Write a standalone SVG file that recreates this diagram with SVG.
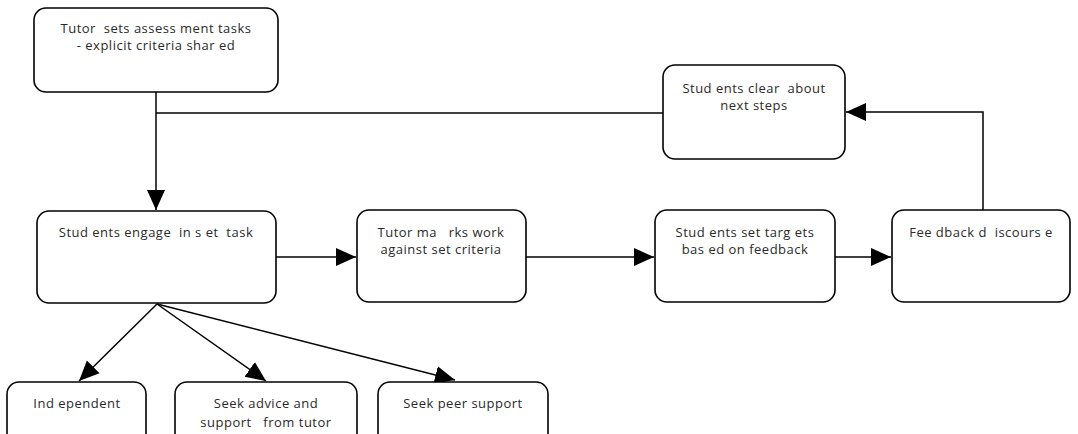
<svg xmlns="http://www.w3.org/2000/svg" width="1078" height="434" viewBox="0 0 1078 434">
<style>
.box{fill:#fff;stroke:#000;stroke-width:1.6}
.t{font-family:"Open Sans","Liberation Sans",sans-serif;font-size:13px;letter-spacing:0.5px;fill:#2a2a2a;text-anchor:middle;white-space:pre}
.c{fill:none;stroke:#000;stroke-width:1.5}
</style>
<defs>
<marker id="ah" markerUnits="userSpaceOnUse" markerWidth="20" markerHeight="20" viewBox="0 0 20 20" refX="20" refY="10" orient="auto">
<path d="M0,1 L20,10 L0,19 Z" fill="#000"/>
</marker>
</defs>
<g id="connectors">
<path class="c" d="M156,92 V210" marker-end="url(#ah)"/>
<path class="c" d="M156,113 H663"/>
<path class="c" d="M983,210 V112 H846" marker-end="url(#ah)"/>
<path class="c" d="M276,257 H356" marker-end="url(#ah)"/>
<path class="c" d="M526,257 H654" marker-end="url(#ah)"/>
<path class="c" d="M835,257 H891" marker-end="url(#ah)"/>
<path class="c" d="M157,304 L79,381" marker-end="url(#ah)"/>
<path class="c" d="M157,304 L266,381" marker-end="url(#ah)"/>
<path class="c" d="M157,304 L455,380" marker-end="url(#ah)"/>
</g>
<g id="n1"><rect class="box" x="34" y="8" width="244" height="84" rx="12"/><text class="t" x="156" y="33">Tutor  sets assess ment tasks</text><text class="t" x="156" y="50">- explicit criteria shar ed</text></g>
<g id="n2"><rect class="box" x="663" y="65" width="182" height="94" rx="12"/><text class="t" x="754" y="93">Stud ents clear  about</text><text class="t" x="754" y="110">next steps</text></g>
<g id="n3"><rect class="box" x="37" y="211" width="239" height="92" rx="12"/><text class="t" x="156" y="237">Stud ents engage  in s et  task</text></g>
<g id="n4"><rect class="box" x="357" y="210" width="169" height="92" rx="12"/><text class="t" x="441" y="237">Tutor ma   rks work</text><text class="t" x="441" y="254">against set criteria</text></g>
<g id="n5"><rect class="box" x="655" y="210" width="180" height="92" rx="12"/><text class="t" x="745" y="237">Stud ents set targ ets</text><text class="t" x="745" y="254">bas ed on feedback</text></g>
<g id="n6"><rect class="box" x="892" y="210" width="178" height="92" rx="12"/><text class="t" x="981" y="237">Fee dback d  iscours e</text></g>
<g id="n7"><rect class="box" x="7" y="382" width="139" height="70" rx="12"/><text class="t" x="77" y="408">Ind ependent</text></g>
<g id="n8"><rect class="box" x="175" y="382" width="182" height="70" rx="12"/><text class="t" x="266" y="408">Seek advice and</text><text class="t" x="266" y="427">support   from tutor</text></g>
<g id="n9"><rect class="box" x="378" y="382" width="170" height="70" rx="12"/><text class="t" x="463" y="408">Seek peer support</text></g>
</svg>
